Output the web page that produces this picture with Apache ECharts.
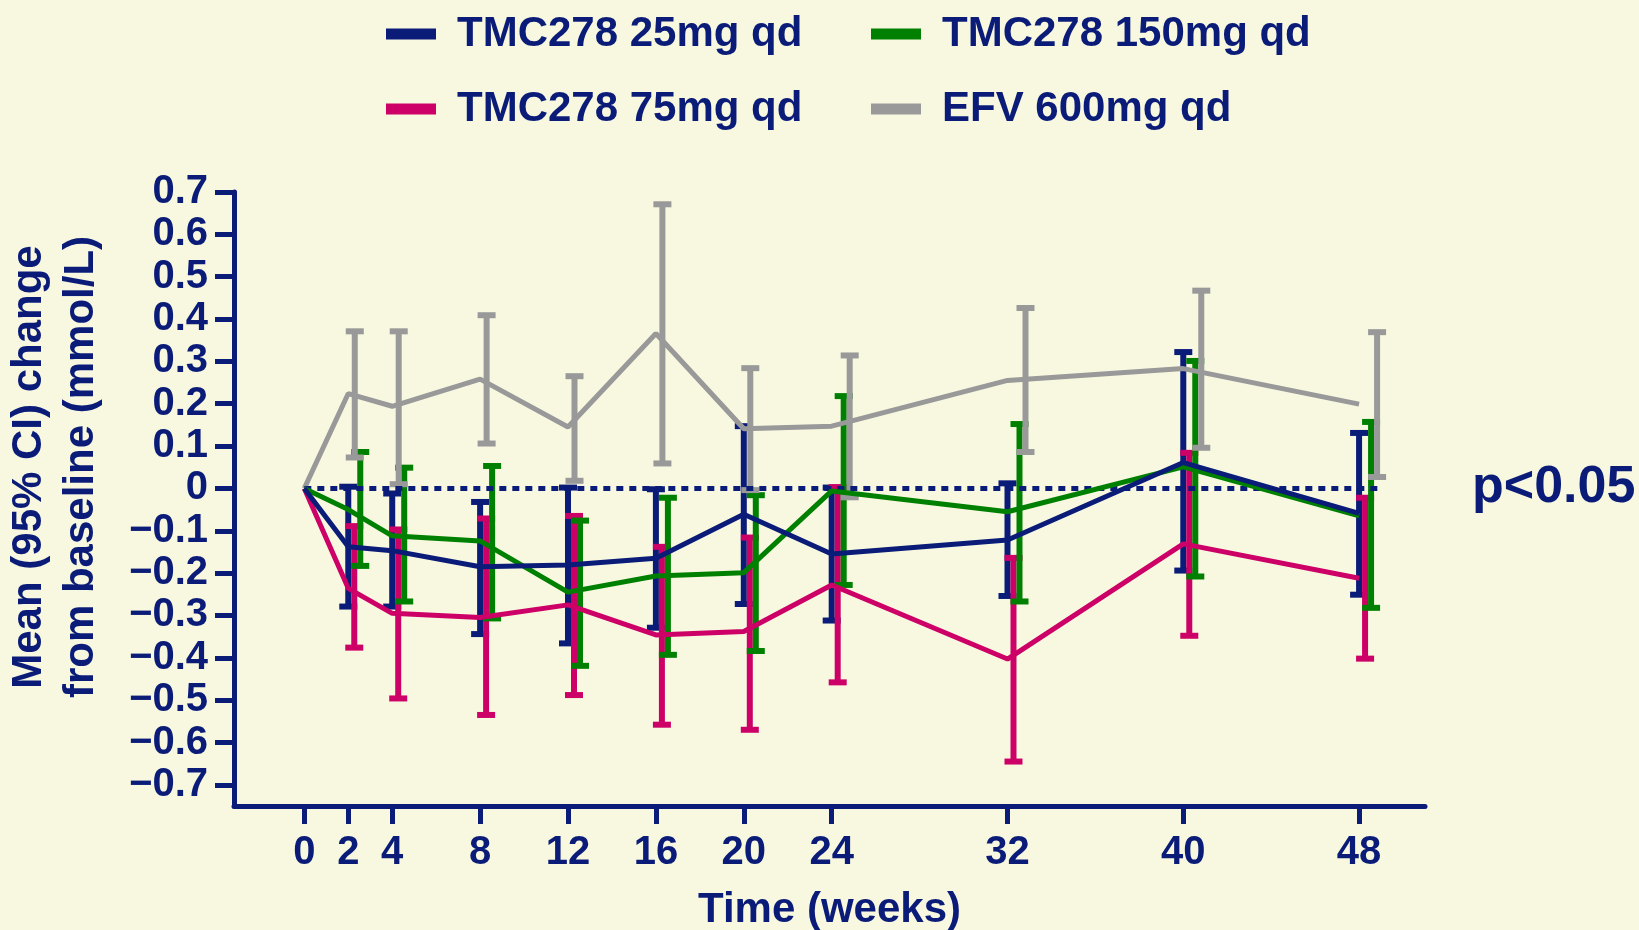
<!DOCTYPE html>
<html>
<head>
<meta charset="utf-8">
<script src="https://cdn.jsdelivr.net/npm/echarts@6/dist/echarts.min.js"></script>
<style>
  html, body { margin: 0; padding: 0; background: #f8f8e0; }
  #chart { width: 1639px; height: 930px; }
</style>
</head>
<body>
<div id="chart"></div>
<script>
// ---- data ----
const weeks = [0, 2, 4, 8, 12, 16, 20, 24, 32, 40, 48];
const seriesNames = ['TMC278 25mg qd', 'TMC278 75mg qd', 'TMC278 150mg qd', 'EFV 600mg qd'];

const mean25 = [0, -0.138, -0.147, -0.185, -0.181, -0.165, -0.061, -0.155, -0.122, 0.061, -0.059];
const lo25   = [null, -0.279, -0.279, -0.344, -0.366, -0.329, -0.273, -0.312, -0.254, -0.194, -0.251];
const hi25   = [null, 0.004, -0.012, -0.032, 0.002, -0.002, 0.147, 0.002, 0.012, 0.322, 0.131];

const mean75 = [0, -0.236, -0.295, -0.305, -0.275, -0.346, -0.338, -0.228, -0.403, -0.131, -0.212];
const lo75   = [null, -0.376, -0.496, -0.535, -0.488, -0.558, -0.570, -0.458, -0.645, -0.348, -0.402];
const hi75   = [null, -0.089, -0.097, -0.071, -0.065, -0.138, -0.116, 0.003, -0.164, 0.084, -0.022];

const mean150 = [0, -0.050, -0.112, -0.124, -0.245, -0.207, -0.199, -0.006, -0.055, 0.051, -0.065];
const lo150   = [null, -0.183, -0.267, -0.307, -0.419, -0.393, -0.384, -0.228, -0.267, -0.208, -0.282];
const hi150   = [null, 0.086, 0.049, 0.053, -0.076, -0.022, -0.016, 0.218, 0.152, 0.301, 0.157];

const meanEFV = [0, 0.224, 0.194, 0.258, 0.145, 0.366, 0.141, 0.147, 0.255, 0.283, 0.199];
const loEFV   = [null, 0.073, 0.010, 0.106, 0.018, 0.059, -0.004, -0.021, 0.086, 0.096, 0.027];
const hiEFV   = [null, 0.371, 0.371, 0.409, 0.265, 0.671, 0.284, 0.314, 0.426, 0.467, 0.369];

const yTicks = [-0.7, -0.6, -0.5, -0.4, -0.3, -0.2, -0.1, 0, 0.1, 0.2, 0.3, 0.4, 0.5, 0.6, 0.7];
const xTicks = weeks;
const pText = 'p<0.05';
const yName = 'Mean (95% CI) change\nfrom baseline (mmol/L)';
const xName = 'Time (weeks)';

// ---- style ----
const NAVY = '#0a1c78';
const GREEN = '#008000';
const MAGENTA = '#cc0066';
const GRAY = '#999999';
const FONT = '"Liberation Sans", Arial, sans-serif';

const groups = [
  { name: seriesNames[0], mean: mean25, lo: lo25, hi: hi25, color: NAVY, off: () => 0, z: 6 },
  { name: seriesNames[1], mean: mean75, lo: lo75, hi: hi75, color: MAGENTA, off: () => 6, z: 4 },
  { name: seriesNames[2], mean: mean150, lo: lo150, hi: hi150, color: GREEN, off: () => 12, z: 5 },
  { name: seriesNames[3], mean: meanEFV, lo: loEFV, hi: hiEFV, color: GRAY, off: (w) => (w >= 24 ? 18 : 6.5), z: 3 }
];

const series = [];
groups.forEach(g => {
  const errData = [];
  weeks.forEach((w, i) => { if (g.lo[i] != null) errData.push([w, g.lo[i], g.hi[i]]); });
  series.push({
    name: g.name,
    type: 'custom',
    z: 2,
    itemStyle: { color: g.color },
    encode: { x: 0, y: [1, 2] },
    data: errData,
    renderItem: function (params, api) {
      const w = api.value(0);
      const pLo = api.coord([w, api.value(1)]);
      const pHi = api.coord([w, api.value(2)]);
      const cx = pLo[0] + g.off(w);
      const half = 9;
      const st = { stroke: g.color, lineWidth: 6 };
      return {
        type: 'group',
        children: [
          { type: 'line', shape: { x1: cx, y1: pHi[1], x2: cx, y2: pLo[1] }, style: st },
          { type: 'line', shape: { x1: cx - half, y1: pHi[1], x2: cx + half, y2: pHi[1] }, style: st },
          { type: 'line', shape: { x1: cx - half, y1: pLo[1], x2: cx + half, y2: pLo[1] }, style: st }
        ]
      };
    }
  });
  series.push({
    name: g.name,
    type: 'line',
    z: g.z,
    data: weeks.map((w, i) => [w, g.mean[i]]),
    showSymbol: false,
    symbol: 'none',
    itemStyle: { color: g.color },
    lineStyle: { color: g.color, width: 5 },
    animation: false
  });
});

// zero reference line
series.push({
  type: 'line',
  data: [],
  z: 1,
  markLine: {
    silent: true,
    symbol: 'none',
    label: { show: false },
    lineStyle: { color: NAVY, width: 5, type: [7, 6] },
    data: [[{ coord: [0, 0] }, { coord: [49, 0] }]]
  }
});

const legendBase = {
  padding: 0,
  icon: 'rect',
  itemWidth: 50,
  itemHeight: 11,
  textStyle: { color: NAVY, fontSize: 42, fontWeight: 'bold', fontFamily: FONT, padding: [0, 0, 0, 16] }
};

const option = {
  backgroundColor: '#f8f8e0',
  animation: false,
  textStyle: { fontFamily: FONT },
  legend: [
    Object.assign({}, legendBase, { data: [seriesNames[0]], left: 386, top: 13 }),
    Object.assign({}, legendBase, { data: [seriesNames[2]], left: 871, top: 13 }),
    Object.assign({}, legendBase, { data: [seriesNames[1]], left: 386, top: 88 }),
    Object.assign({}, legendBase, { data: [seriesNames[3]], left: 871, top: 88 })
  ],
  grid: { left: 234, right: 214, top: 192, bottom: 124, containLabel: false, outerBoundsMode: 'none' },
  xAxis: {
    type: 'value',
    min: -3.2,
    max: 51,
    name: xName,
    nameLocation: 'middle',
    nameGap: 83,
    nameTextStyle: { color: NAVY, fontSize: 42, fontWeight: 'bold', fontFamily: FONT },
    axisLine: { show: true, onZero: false, lineStyle: { color: NAVY, width: 5 } },
    axisTick: { show: true, length: 18, customValues: xTicks, lineStyle: { color: NAVY, width: 5 } },
    axisLabel: {
      customValues: xTicks,
      color: NAVY, fontSize: 40, fontWeight: 'bold', fontFamily: FONT, margin: 27,
      formatter: v => String(v)
    },
    splitLine: { show: false }
  },
  yAxis: {
    type: 'value',
    min: -0.75,
    max: 0.7,
    axisLine: { show: true, onZero: false, lineStyle: { color: NAVY, width: 5 } },
    axisTick: { show: true, length: 19, customValues: yTicks, lineStyle: { color: NAVY, width: 5 } },
    axisLabel: {
      customValues: yTicks,
      color: NAVY, fontSize: 40, fontWeight: 'bold', fontFamily: FONT, margin: 26,
      formatter: v => {
        const r = Math.round(v * 10) / 10;
        if (r === 0) return '0';
        return (r < 0 ? '\u2212' : '') + Math.abs(r).toFixed(1);
      }
    },
    splitLine: { show: false }
  },
  graphic: [
    {
      type: 'text',
      x: 55, y: 467,
      rotation: Math.PI / 2,
      style: {
        text: yName,
        fill: NAVY,
        font: 'bold 42px ' + FONT,
        textAlign: 'center',
        textVerticalAlign: 'middle',
        lineHeight: 52
      }
    },
    {
      type: 'text',
      x: 1472, y: 488,
      style: {
        text: pText,
        fill: NAVY,
        font: 'bold 52px ' + FONT,
        textAlign: 'left',
        textVerticalAlign: 'middle'
      }
    }
  ],
  series: series
};

const chart = echarts.init(document.getElementById('chart'), null, { renderer: 'canvas' });
chart.setOption(option);
</script>
</body>
</html>
